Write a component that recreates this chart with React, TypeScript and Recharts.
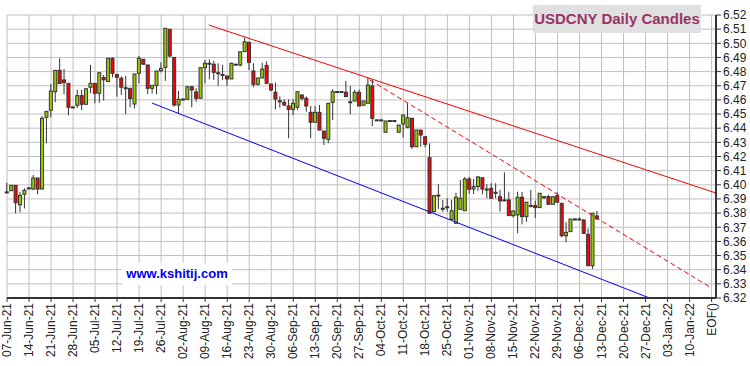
import { Bar, CartesianGrid, ComposedChart, ReferenceLine, XAxis, YAxis } from "recharts";

// one trading day per slot, 5 slots per week, starting Mon 07-Jun-21
const OPEN = [
  6.395, 6.3958, 6.3996, 6.3859, 6.3933,
  6.3978, 6.397, 6.4048, 6.397, 6.4477,
  6.4527, 6.4658, 6.4809, 6.4741, 6.4717,
  6.455, 6.4562, 6.463, 6.4569, 6.4689,
  6.4717, 6.4647, 6.4758, 6.473, 6.4894,
  6.478, 6.4753, 6.4686, 6.4682, 6.4571,
  6.4788, 6.4887, 6.4847, 6.4682, 6.4703,
  6.4806, 6.483, 6.5099, 6.49, 6.4564,
  6.4604, 6.4604, 6.4693, 6.4656, 6.4611,
  6.4828, 6.4859, 6.4852, 6.4792, 6.478,
  6.4769, 6.4748, 6.4852, 6.4847, 6.4941,
  6.5007, 6.4804, 6.471, 6.4755, 6.4844,
  6.4712, 6.4654, 6.4594, 6.4583, 6.4557,
  6.4533, 6.4548, 6.4635, 6.4611, 6.4512,
  6.4442, 6.4512, 6.438, 6.4321, 6.4583,
  6.4658, 6.4658, 6.4654, 6.4587, 6.4592,
  6.4654, 6.4562, 6.4576, 6.4698, 6.4458,
  6.4458, 6.4371, 6.4453, 6.4453, 6.4371,
  6.443, 6.4406, 6.447, 6.4269, 6.4387,
  6.434, 6.4191, 6.381, 6.3927, 6.3834,
  6.3845, 6.3756, 6.3728, 6.3827, 6.3817,
  6.4041, 6.397, 6.3988, 6.405, 6.397,
  6.3975, 6.3947, 6.3916, 6.3893, 6.3893,
  6.3782, 6.3787, 6.3912, 6.3775, 6.3853,
  6.3853, 6.3839, 6.3916, 6.3916, 6.3862,
  6.3923, 6.3869, 6.364, 6.3669, 6.3758,
  6.3758, 6.3751, 6.365, 6.3428, 6.378,
];

const HIGH = [
  6.4015, 6.3996, 6.3996, 6.3951, 6.3975,
  6.3985, 6.4069, 6.4048, 6.4486, 6.4519,
  6.4712, 6.4809, 6.4894, 6.4818, 6.4717,
  6.4553, 6.4672, 6.4672, 6.4679, 6.4847,
  6.4717, 6.4792, 6.4777, 6.4897, 6.49,
  6.478, 6.4767, 6.477, 6.4682, 6.4783,
  6.491, 6.4887, 6.4847, 6.4703, 6.4804,
  6.4866, 6.5106, 6.5099, 6.49, 6.4663,
  6.461, 6.4698, 6.4693, 6.4682, 6.4828,
  6.4882, 6.4887, 6.4877, 6.4859, 6.4847,
  6.4769, 6.4863, 6.4855, 6.494, 6.504,
  6.5007, 6.4859, 6.4755, 6.4863, 6.4872,
  6.4712, 6.4722, 6.4625, 6.4604, 6.4604,
  6.4604, 6.4663, 6.4635, 6.4625, 6.4557,
  6.4557, 6.4564, 6.438, 6.4576, 6.4675,
  6.4658, 6.4658, 6.4734, 6.4698, 6.4673,
  6.4673, 6.4592, 6.476, 6.4741, 6.4458,
  6.4458, 6.4451, 6.4453, 6.4453, 6.4422,
  6.4493, 6.4576, 6.447, 6.4387, 6.4387,
  6.434, 6.4293, 6.3927, 6.4003, 6.3893,
  6.3905, 6.3893, 6.3944, 6.4034, 6.4055,
  6.4055, 6.4041, 6.4062, 6.405, 6.4004,
  6.4011, 6.4011, 6.3964, 6.4088, 6.3951,
  6.3815, 6.3951, 6.3951, 6.3877, 6.3963,
  6.3888, 6.394, 6.3916, 6.3928, 6.3916,
  6.3947, 6.3869, 6.3735, 6.3758, 6.3765,
  6.377, 6.3758, 6.3692, 6.3799, 6.3815,
];

const LOW = [
  6.394, 6.3958, 6.3799, 6.3806, 6.3833,
  6.3975, 6.3963, 6.3933, 6.397, 6.4293,
  6.4477, 6.4583, 6.4716, 6.464, 6.4491,
  6.455, 6.4543, 6.4529, 6.4569, 6.4647,
  6.4576, 6.458, 6.4596, 6.473, 6.476,
  6.4623, 6.4635, 6.45, 6.4548, 6.454,
  6.4717, 6.485, 6.4642, 6.4645, 6.464,
  6.4795, 6.4734, 6.49, 6.4552, 6.45,
  6.4598, 6.4604, 6.4548, 6.4587, 6.4611,
  6.4717, 6.4745, 6.4741, 6.47, 6.474,
  6.47, 6.4748, 6.4848, 6.4835, 6.4941,
  6.4811, 6.4689, 6.4702, 6.4755, 6.4717,
  6.466, 6.4533, 6.4545, 6.4555, 6.4329,
  6.4493, 6.4528, 6.4596, 6.4517, 6.4329,
  6.4442, 6.4387, 6.4281, 6.4293, 6.4458,
  6.4658, 6.4658, 6.4623, 6.45, 6.4592,
  6.4557, 6.4562, 6.4576, 6.4415, 6.4458,
  6.4458, 6.4371, 6.4453, 6.4453, 6.4371,
  6.4333, 6.44, 6.4253, 6.4269, 6.427,
  6.4265, 6.3799, 6.3805, 6.3829, 6.381,
  6.381, 6.3752, 6.3728, 6.3827, 6.3817,
  6.3935, 6.3935, 6.3955, 6.3933, 6.3904,
  6.3905, 6.3904, 6.381, 6.3893, 6.3782,
  6.3768, 6.3657, 6.372, 6.3739, 6.3853,
  6.3765, 6.3839, 6.39, 6.3862, 6.3862,
  6.3877, 6.363, 6.3594, 6.3669, 6.3758,
  6.3758, 6.3657, 6.3428, 6.3405, 6.3751,
];

const CLOSE = [
  6.395, 6.3996, 6.3873, 6.3926, 6.3961,
  6.3978, 6.4048, 6.397, 6.447, 6.4519,
  6.4663, 6.4809, 6.4716, 6.4722, 6.4548,
  6.455, 6.463, 6.4569, 6.4679, 6.4717,
  6.4647, 6.4792, 6.4742, 6.4894, 6.4788,
  6.476, 6.469, 6.4684, 6.461, 6.4783,
  6.4894, 6.4852, 6.4682, 6.4703, 6.4804,
  6.4822, 6.5106, 6.491, 6.4564, 6.4604,
  6.4606, 6.4693, 6.467, 6.4611, 6.4828,
  6.4859, 6.4859, 6.4795, 6.4792, 6.478,
  6.4748, 6.4859, 6.4852, 6.494, 6.5011,
  6.4866, 6.471, 6.4755, 6.4817, 6.4717,
  6.467, 6.4606, 6.4594, 6.4564, 6.4533,
  6.4576, 6.4658, 6.4611, 6.4557, 6.4442,
  6.4512, 6.4387, 6.4329, 6.4576, 6.4658,
  6.4658, 6.4658, 6.4623, 6.4587, 6.4654,
  6.4557, 6.4592, 6.4705, 6.447, 6.4458,
  6.4458, 6.4451, 6.4453, 6.4453, 6.4422,
  6.4493, 6.4474, 6.4269, 6.4387, 6.4352,
  6.4286, 6.3799, 6.3923, 6.3925, 6.3834,
  6.3845, 6.3817, 6.3912, 6.3905, 6.4041,
  6.3968, 6.3987, 6.4055, 6.397, 6.397,
  6.3905, 6.3947, 6.3886, 6.3893, 6.3782,
  6.3815, 6.3912, 6.3775, 6.3877, 6.3853,
  6.3839, 6.394, 6.3916, 6.3862, 6.3916,
  6.3877, 6.364, 6.3664, 6.3758, 6.3758,
  6.3758, 6.3657, 6.3428, 6.3799, 6.376,
];

const WEEK_LABELS = [
  "07-Jun-21", "14-Jun-21", "21-Jun-21", "28-Jun-21", "05-Jul-21", "12-Jul-21",
  "19-Jul-21", "26-Jul-21", "02-Aug-21", "09-Aug-21", "16-Aug-21", "23-Aug-21",
  "30-Aug-21", "06-Sep-21", "13-Sep-21", "20-Sep-21", "27-Sep-21", "04-Oct-21",
  "11-Oct-21", "18-Oct-21", "25-Oct-21", "01-Nov-21", "08-Nov-21", "15-Nov-21",
  "22-Nov-21", "29-Nov-21", "06-Dec-21", "13-Dec-21", "20-Dec-21", "27-Dec-21",
  "03-Jan-22", "10-Jan-22", "EOF()",
];

const PRICE_TICKS = [
  6.32, 6.33, 6.34, 6.35, 6.36, 6.37, 6.38, 6.39, 6.4, 6.41, 6.42,
  6.43, 6.44, 6.45, 6.46, 6.47, 6.48, 6.49, 6.5, 6.51, 6.52,
];

// trend lines, [day slot, price]
const UPPER_TREND = [
  { x: 45.8, y: 6.5129 },
  { x: 161, y: 6.3942 },
];
const STEEP_TREND = [
  { x: 82.4, y: 6.4741 },
  { x: 159.6, y: 6.3278 },
];
const LOWER_TREND = [
  { x: 32.9, y: 6.4578 },
  { x: 145.9, y: 6.32 },
];

const FONT = '"Liberation Sans", Arial, sans-serif';
const AXIS_COLOR = "#333";

const candles = OPEN.map((open, i) => {
  const close = CLOSE[i];
  const low = Math.min(LOW[i], open, close);
  const high = Math.max(HIGH[i], open, close);
  return { day: i, open, high, low, close, range: [low, high > low ? high : low + 0.0001] };
});
const weekTicks = WEEK_LABELS.map((_, i) => i * 5);

function Candle(props: any) {
  const { x, y, width, height, payload } = props;
  if (x == null || y == null) return null;
  const top = Math.min(y, y + height);
  const bottom = Math.max(y, y + height);
  const span = payload.high - payload.low;
  const toY = (v: number) => (span > 0 ? top + ((payload.high - v) / span) * (bottom - top) : top);
  const up = payload.close >= payload.open;
  const bodyTop = toY(Math.max(payload.open, payload.close));
  const bodyBottom = toY(Math.min(payload.open, payload.close));
  const cx = x + width / 2;
  return (
    <g>
      <line x1={cx} x2={cx} y1={top} y2={bottom} stroke={AXIS_COLOR} strokeWidth={1} />
      <rect
        x={x + 0.5}
        y={bodyTop}
        width={width - 1}
        height={Math.max(bodyBottom - bodyTop, 1)}
        fill={up ? "#99cc00" : "#ff0000"}
        stroke={AXIS_COLOR}
        strokeWidth={1}
      />
    </g>
  );
}

function WeekTick({ x, y, payload }: any) {
  const label = WEEK_LABELS[Math.round(payload.value / 5)];
  return (
    <text
      x={x}
      y={y}
      transform={`rotate(-90, ${x}, ${y})`}
      textAnchor="end"
      dominantBaseline="central"
      fontSize={12}
      fontFamily={FONT}
      fill="#222"
    >
      {label}
    </text>
  );
}

export default function App() {
  return (
    <div style={{ position: "absolute", left: 0, top: 0, width: 750, height: 366, background: "#fff" }}>
      <ComposedChart
        width={750}
        height={366}
        data={candles}
        margin={{ top: 15, right: 0, bottom: 0, left: 7 }}
      >
        <CartesianGrid stroke="#c0c0c0" strokeWidth={1} />
        <XAxis
          dataKey="day"
          type="number"
          domain={[0, 161]}
          ticks={weekTicks}
          interval={0}
          height={68}
          tick={<WeekTick />}
          tickSize={4}
          tickMargin={1}
          tickLine={{ stroke: AXIS_COLOR }}
          axisLine={{ stroke: AXIS_COLOR, strokeWidth: 2 }}
        />
        <YAxis
          orientation="right"
          domain={[6.32, 6.52]}
          ticks={PRICE_TICKS}
          interval={0}
          width={34}
          tickSize={5}
          tickMargin={2}
          tickFormatter={(v: number) => v.toFixed(2)}
          tick={{ fontSize: 12, fill: "#222", fontFamily: FONT }}
          tickLine={{ stroke: AXIS_COLOR }}
          axisLine={{ stroke: AXIS_COLOR, strokeWidth: 2 }}
        />
        <Bar
          dataKey="range"
          barSize={4}
          shape={<Candle />}
          isAnimationActive={false}
        />
        <ReferenceLine segment={UPPER_TREND} stroke="#ff0000" strokeWidth={1} ifOverflow="visible" />
        <ReferenceLine
          segment={STEEP_TREND}
          stroke="#ff0000"
          strokeWidth={1}
          strokeDasharray="5 3"
          ifOverflow="visible"
        />
        <ReferenceLine segment={LOWER_TREND} stroke="#0000ff" strokeWidth={1} ifOverflow="visible" />
      </ComposedChart>

      <div
        style={{
          position: "absolute",
          left: 533,
          top: 5,
          width: 168,
          height: 28,
          background: "#e0e0e0",
          color: "#993366",
          fontFamily: FONT,
          fontWeight: "bold",
          fontSize: 15,
          lineHeight: "28px",
          textAlign: "center",
        }}
      >
        USDCNY Daily Candles
      </div>
      <div
        style={{
          position: "absolute",
          left: 122,
          top: 263,
          width: 110,
          height: 22,
          background: "#fff",
          color: "#0000ee",
          fontFamily: FONT,
          fontWeight: "bold",
          fontSize: 13,
          lineHeight: "22px",
          textAlign: "center",
        }}
      >
        www.kshitij.com
      </div>
    </div>
  );
}
